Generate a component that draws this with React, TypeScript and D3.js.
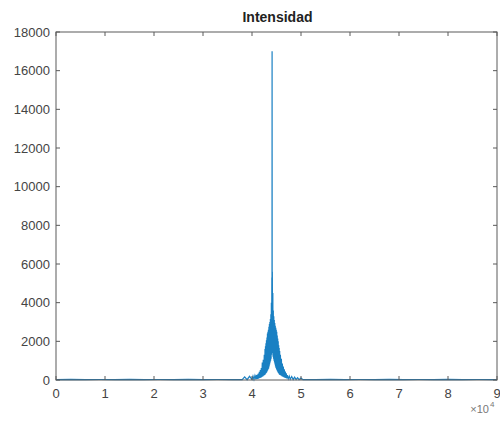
import React from "react";
import * as d3 from "d3";

const title = "Intensidad";
const xTicks = [0, 1, 2, 3, 4, 5, 6, 7, 8, 9];
const yTicks = [0, 2000, 4000, 6000, 8000, 10000, 12000, 14000, 16000, 18000];
const xScaleLabel = "10";
const xScaleExp = "4";

const sampleIdx = [
  0, 3000, 6000, 9000, 12000, 15000, 18000, 21000, 24000, 27000, 30000, 33000, 36000,
  38000, 38500, 39000, 39500,
  40000, 40200, 40400, 40600, 40800, 40900, 41000, 41100, 41200, 41300,
  41400, 41500, 41600, 41700, 41800, 41900, 42000, 42100, 42200, 42300, 42400, 42500,
  42600, 42650, 42700, 42750, 42800, 42850, 42900, 42950,
  43000, 43050, 43100, 43150, 43200, 43250, 43300, 43350, 43400, 43450,
  43500, 43550, 43600, 43650, 43700, 43750, 43800, 43850, 43900, 43950,
  44000, 44050, 44080, 44100, 44120, 44150, 44200, 44250,
  44300, 44350, 44400, 44450, 44500, 44550, 44600, 44650, 44700, 44750,
  44800, 44850, 44900, 44950, 45000, 45050, 45100, 45150, 45200, 45250,
  45300, 45350, 45400, 45450, 45500, 45550, 45600, 45650,
  45700, 45800, 45900, 46000, 46100, 46200, 46300, 46400, 46500, 46600,
  46700, 46800, 46900, 47000, 47100, 47200, 47400, 47600, 47800,
  48100, 48400, 48700, 49000, 49300, 49600, 50000, 50400,
  53000, 56000, 59000, 62000, 65000, 68000, 71000, 74000, 77000, 80000, 83000, 86000, 90000,
];
const intensity = [
  20, 30, 15, 25, 20, 30, 15, 25, 20, 30, 15, 25, 20,
  20, 160, 15, 190,
  30, 200, 30, 230, 40, 250, 50, 280, 60, 330,
  80, 420, 100, 520, 120, 620, 150, 900, 180, 1050, 220, 1300,
  260, 1600, 300, 1750, 330, 1900, 360, 2050,
  400, 2200, 450, 2400, 500, 2500, 550, 2600, 600, 2750,
  700, 2900, 800, 3000, 900, 3150, 1000, 3400, 1100, 4000,
  1300, 5300, 1500, 17000, 1600, 5600, 1400, 4500,
  1200, 3600, 1100, 3300, 1000, 3100, 900, 2950, 800, 2800,
  700, 2700, 620, 2600, 560, 2500, 500, 2300, 450, 2150,
  400, 2000, 360, 1800, 320, 1650, 290, 1500,
  260, 1300, 230, 1100, 200, 850, 170, 700, 140, 560,
  120, 440, 100, 350, 80, 250, 60, 200, 40,
  180, 30, 150, 25, 120, 20, 100, 20,
  20, 30, 15, 25, 20, 30, 15, 25, 20, 30, 15, 25, 20,
];

const W = 500;
const H = 423;
const m = { left: 56, right: 3, top: 32, bottom: 43 };
const font = "'Liberation Sans', Arial, Helvetica, sans-serif";
const axisColor = "#5a5a5a";
const textColor = "#444";
const lineColor = "#0072BD";

export default function App() {
  const x = d3.scaleLinear().domain([0, 90000]).range([m.left, W - m.right]);
  const y = d3.scaleLinear().domain([0, 18000]).range([H - m.bottom, m.top]);
  const pts: [number, number][] = sampleIdx.map((s, i) => [s, intensity[i]]);
  const line = d3
    .line<[number, number]>()
    .x((d) => x(d[0]))
    .y((d) => y(d[1]));
  const x0 = m.left;
  const x1 = W - m.right;
  const y0 = H - m.bottom;
  const y1 = m.top;
  const tl = 4;
  return (
    <svg
      width={W}
      height={H}
      style={{ position: "absolute", left: 0, top: 0, background: "#fff" }}
    >
      <rect x={0} y={0} width={W} height={H} fill="#fff" />
      <path d={line(pts) ?? ""} fill="none" stroke={lineColor} strokeWidth={1.2} strokeOpacity={0.9} />
      <rect x={x0} y={y1} width={x1 - x0} height={y0 - y1} fill="none" stroke={axisColor} strokeWidth={1} />
      {xTicks.map((t) => (
        <g key={"x" + t}>
          <line x1={x(t * 10000)} x2={x(t * 10000)} y1={y0} y2={y0 - tl} stroke={axisColor} />
          <line x1={x(t * 10000)} x2={x(t * 10000)} y1={y1} y2={y1 + tl} stroke={axisColor} />
          <text
            x={x(t * 10000)}
            y={y0 + 18}
            textAnchor="middle"
            fontFamily={font}
            fontSize={13}
            fill={textColor}
          >
            {t}
          </text>
        </g>
      ))}
      {yTicks.map((t) => (
        <g key={"y" + t}>
          <line x1={x0} x2={x0 + tl} y1={y(t)} y2={y(t)} stroke={axisColor} />
          <line x1={x1} x2={x1 - tl} y1={y(t)} y2={y(t)} stroke={axisColor} />
          <text
            x={x0 - 6}
            y={y(t) + 4.5}
            textAnchor="end"
            fontFamily={font}
            fontSize={13}
            fill={textColor}
          >
            {t}
          </text>
        </g>
      ))}
      <text x={x1 - 8} y={y0 + 33} textAnchor="end" fontFamily={font} fontSize={11} fill="#777">
        {"\u00d7" + xScaleLabel}
      </text>
      <text x={x1 - 7} y={y0 + 27} textAnchor="start" fontFamily={font} fontSize={8} fill="#777">
        {xScaleExp}
      </text>
      <text
        x={(x0 + x1) / 2 + 1}
        y={22}
        textAnchor="middle"
        fontFamily={font}
        fontSize={14}
        fontWeight="bold"
        fill="#222"
      >
        {title}
      </text>
    </svg>
  );
}
